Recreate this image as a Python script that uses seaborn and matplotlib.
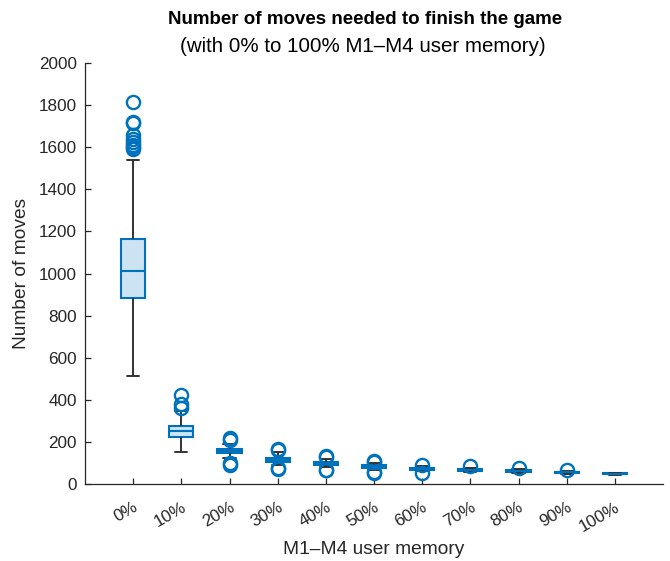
import numpy as np
import pandas as pd
import matplotlib
matplotlib.use("Agg")
import matplotlib.pyplot as plt
import seaborn as sns

# Memory levels (x categories)
categories = ["0%", "10%", "20%", "30%", "40%", "50%", "60%", "70%", "80%", "90%", "100%"]

# Box summary per memory level: quartiles, whisker ends and outliers (moves)
q1 = [882, 225, 145, 106, 90, 78, 68, 62, 58, 53, 47]
median = [1013, 253, 155, 116, 97, 83, 72, 66, 61, 55, 48]
q3 = [1162, 276, 166, 125, 103, 88, 76, 70, 65, 58, 50]
whisker_low = [514, 150, 125, 88, 80, 68, 60, 56, 53, 49, 45]
whisker_high = [1539, 345, 190, 150, 118, 100, 84, 76, 71, 62, 52]
outliers = [
    [1816, 1721, 1715, 1658, 1640, 1626, 1612, 1602, 1590],
    [423, 380, 362],
    [218, 210, 100, 92],
    [168, 162, 76, 72],
    [133, 128, 68, 65],
    [110, 106, 55, 52],
    [91, 50],
    [84],
    [77],
    [66],
    [],
]

y_ticks = list(range(0, 2001, 200))

# Rebuild a sample per level whose box statistics equal the summary above
rows = []
for cat, a, m, b, lo, hi, out in zip(categories, q1, median, q3,
                                     whisker_low, whisker_high, outliers):
    sample = list(out) + [lo, hi] + [a] * 50 + [m] * 50 + [b] * 50
    rows += [(cat, v) for v in sample]
df = pd.DataFrame(rows, columns=["memory", "moves"])

sns.set_style("white")
plt.rcParams["font.family"] = ["Liberation Sans", "DejaVu Sans"]

BLUE = "#0072BD"
FACE = "#CCE3F2"
DARK = "#262626"

fig = plt.figure(figsize=(6.70, 5.61), dpi=100)
ax = fig.add_axes([85 / 670, 77 / 561, 578 / 670, 421 / 561])

sns.boxplot(
    data=df, x="memory", y="moves", order=categories, ax=ax,
    color=FACE, saturation=1, width=0.5, linecolor=BLUE, linewidth=1.5,
    whiskerprops=dict(color="#333333", linewidth=1.4),
    capprops=dict(color="#333333", linewidth=1.4),
    medianprops=dict(color=BLUE, linewidth=1.5),
    flierprops=dict(marker="o", markersize=9.5, markerfacecolor="none",
                    markeredgecolor=BLUE, markeredgewidth=1.7),
    capwidths=0.25,
)

ax.set_xlim(-1, len(categories))
ax.set_ylim(0, 2000)
ax.set_yticks(y_ticks)
ax.set_yticklabels([str(t) for t in y_ticks])
ax.set_xticks(range(len(categories)))
ax.set_xticklabels(categories, rotation=30, ha="right", rotation_mode="anchor")

for side in ("top", "right"):
    ax.spines[side].set_visible(False)
for side in ("left", "bottom"):
    ax.spines[side].set_color(DARK)
    ax.spines[side].set_linewidth(0.9)
ax.tick_params(axis="both", direction="in", length=4, width=0.9,
               color=DARK, labelcolor=DARK, labelsize=12.3,
               bottom=True, left=True)
ax.tick_params(axis="x", pad=11)
ax.tick_params(axis="y", pad=6)

ax.set_xlabel("")
fig.text(374 / 670, 1 - 549 / 561, "M1\u2013M4 user memory",
         ha="center", va="center", fontsize=13.8, color=DARK)
ax.set_ylabel("Number of moves", fontsize=13.8, color=DARK, labelpad=6)

fig.text(365 / 670, 1 - 20 / 561, "Number of moves needed to finish the game",
         ha="center", va="center", fontsize=13.5, fontweight="bold", color="black")
fig.text(363 / 670, 1 - 47 / 561, "(with 0% to 100% M1\u2013M4 user memory)",
         ha="center", va="center", fontsize=14.8, color="black")

fig.savefig("out.png", dpi=100)
